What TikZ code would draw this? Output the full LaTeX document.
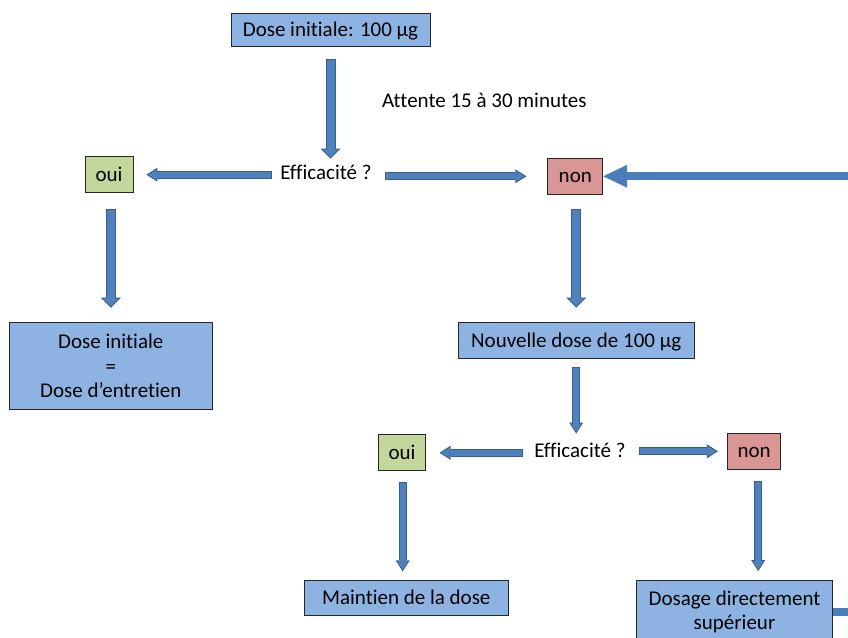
\documentclass[tikz,border=0pt]{standalone}
\usepackage{fontspec}
\setmainfont{Carlito}[Ligatures=NoCommon]
\usetikzlibrary{arrows.meta,calc}
\definecolor{boxblue}{HTML}{8DB3E2}
\definecolor{boxgreen}{HTML}{C3D69B}
\definecolor{boxred}{HTML}{D99694}
\definecolor{arrfill}{HTML}{4F81BD}
\definecolor{arrline}{HTML}{385D8A}
\definecolor{loopcol}{HTML}{4A7EBB}
\newcommand{\barrow}[3]{\draw[#1out] #2 -- #3; \draw[#1in] #2 -- #3;}
\begin{document}
\begin{tikzpicture}[x=1pt,y=-1pt,
  every node/.style={font=\fontsize{21}{24.5}\selectfont, inner sep=0pt},
  bbox/.style={draw=black!85, line width=0.8pt, fill=boxblue, align=center},
  oneline/.style={text height=17pt, text depth=4pt},
  ybox/.style={draw=black!85, line width=0.8pt, fill=boxgreen, oneline},
  nbox/.style={draw=black!85, line width=0.8pt, fill=boxred, oneline},
  txt/.style={anchor=base},
  bigout/.style={draw=arrline, line width=10pt, -{Triangle[width=20pt,length=10pt,line width=0pt]}},
  bigin/.style={draw=arrfill, line width=8pt, shorten <=1pt, shorten >=1.41pt, -{Triangle[width=15.2pt,length=7.59pt,line width=0pt]}},
  smallout/.style={draw=arrline, line width=8pt, -{Triangle[width=14pt,length=11pt,line width=0pt]}},
  smallin/.style={draw=arrfill, line width=6pt, shorten <=1pt, shorten >=1.86pt, -{Triangle[width=10.4pt,length=8.14pt,line width=0pt]}},
  loopline/.style={draw=loopcol, line width=8pt, -{Triangle[width=23pt,length=24pt,line width=0pt]}}
]
\useasboundingbox (0,0) rectangle (848,637);

\node[bbox, oneline, minimum width=199pt, minimum height=33pt] (top) at (330.5,29.5) {Dose initiale: 100 µg};
\node[txt] (att) at (484.3,107.3) {Attente 15 à 30 minutes};
\node[txt] (eff1) at (326,179.3) {Efficacité ?};
\node[ybox, minimum width=48pt, minimum height=36pt] (oui1) at (109,174.7) {oui};
\node[nbox, minimum width=55pt, minimum height=36pt] (non1) at (575.3,176.3) {non};
\node[bbox, minimum width=203pt, minimum height=87pt] (ded) at (110.8,366) {Dose initiale\\=\\Dose d’entretien};
\node[bbox, oneline, minimum width=236pt, minimum height=36pt] (nouv) at (576.2,340.5) {Nouvelle dose de 100 µg};
\node[txt] (eff2) at (580,457.7) {Efficacité ?};
\node[ybox, minimum width=47pt, minimum height=36pt] (oui2) at (402,452.8) {oui};
\node[nbox, minimum width=53pt, minimum height=36pt] (non2) at (754.2,451.3) {non};
\node[bbox, oneline, minimum width=204pt, minimum height=35pt] (maint) at (406.3,598.3) {Maintien de la dose};
\node[bbox, minimum width=196pt, minimum height=63pt] (dos) at (734.5,612) {Dosage directement\\supérieur};

% block arrows
\barrow{big}{($(top.south)+(0,13)$)}{($(top.south|-eff1.north)+(0,-6)$)}
\barrow{small}{($(eff1.west|-oui1)+(-8.3,0)$)}{($(oui1.east)+(13,0)$)}
\barrow{small}{($(eff1.east|-non1)+(13,0)$)}{($(non1.west)+(-21,0)$)}
\barrow{big}{($(ded.north|-oui1.south)+(0,15.6)$)}{($(ded.north)+(0,-14.4)$)}
\barrow{big}{($(nouv.north|-non1.south)+(0,14)$)}{($(nouv.north)+(0,-14.4)$)}
\barrow{small}{($(nouv.south)+(0,8.4)$)}{($(nouv.south|-eff2.north)+(0,-9.5)$)}
\barrow{small}{($(eff2.west|-oui2)+(-11.3,0)$)}{($(oui2.east)+(13.6,0)$)}
\barrow{small}{($(eff2.east|-non2)+(13.3,0)$)}{($(non2.west)+(-9.4,0)$)}
\barrow{small}{($(oui2.south)+(0.7,11)$)}{($(oui2.south|-maint.north)+(0.7,-9)$)}
\barrow{small}{($(non2.south)+(4,11.7)$)}{($(non2.south|-dos.north)+(4,-9)$)}

% loop back connector
\draw[loopline] (dos.east) -- ++(40,0) |- (non1.east);
\end{tikzpicture}
\end{document}
